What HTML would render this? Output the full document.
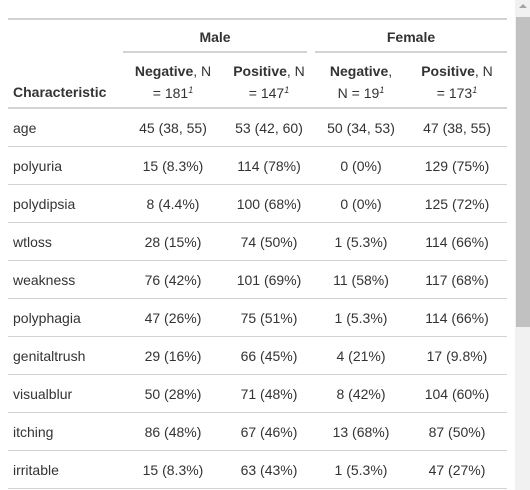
<!DOCTYPE html>
<html><head><meta charset="utf-8"><style>
body{margin:0;width:530px;height:490px;overflow:hidden;background:#fff;font-family:"Liberation Sans",sans-serif;color:#333;font-size:14px;position:relative}
.a{position:absolute;white-space:nowrap}
.c{text-align:center}
.l{position:absolute;background:#d3d3d3}
sup{font-style:italic;font-size:9px;line-height:0;vertical-align:5px}
</style></head><body>
<div class="l" style="left:8px;top:18px;width:499px;height:2px"></div>
<div class="a c" style="left:123px;width:184px;top:29px;font-weight:bold">Male</div>
<div class="a c" style="left:315px;width:192px;top:29px;font-weight:bold">Female</div>
<div class="l" style="left:123px;top:51px;width:184px;height:2px"></div>
<div class="l" style="left:315px;top:51px;width:192px;height:2px"></div>
<div class="a" style="left:13px;top:84px;font-weight:bold">Characteristic</div>
<div class="a c" style="left:123px;width:100px;top:60px;line-height:22px"><b>Negative</b>, N<br>= 181<sup>1</sup></div>
<div class="a c" style="left:223px;width:92px;top:60px;line-height:22px"><b>Positive</b>, N<br>= 147<sup>1</sup></div>
<div class="a c" style="left:315px;width:92px;top:60px;line-height:22px"><b>Negative</b>,<br>N = 19<sup>1</sup></div>
<div class="a c" style="left:407px;width:100px;top:60px;line-height:22px"><b>Positive</b>, N<br>= 173<sup>1</sup></div>
<div class="l" style="left:8px;top:107px;width:499px;height:2px"></div>
<div id="rows"></div>
<div class="a" style="left:515px;top:0;width:15px;height:490px;background:#f1f1f1"></div>
<div class="a" style="left:516px;top:17px;width:14px;height:310px;background:#c1c1c1"></div>
<div class="a" style="left:519px;top:4px;width:0;height:0;border-left:4px solid transparent;border-right:4px solid transparent;border-bottom:4px solid #a3a3a3"></div>
<script>
const rowsData=[
["age","45 (38, 55)","53 (42, 60)","50 (34, 53)","47 (38, 55)"],
["polyuria","15 (8.3%)","114 (78%)","0 (0%)","129 (75%)"],
["polydipsia","8 (4.4%)","100 (68%)","0 (0%)","125 (72%)"],
["wtloss","28 (15%)","74 (50%)","1 (5.3%)","114 (66%)"],
["weakness","76 (42%)","101 (69%)","11 (58%)","117 (68%)"],
["polyphagia","47 (26%)","75 (51%)","1 (5.3%)","114 (66%)"],
["genitaltrush","29 (16%)","66 (45%)","4 (21%)","17 (9.8%)"],
["visualblur","50 (28%)","71 (48%)","8 (42%)","104 (60%)"],
["itching","86 (48%)","67 (46%)","13 (68%)","87 (50%)"],
["irritable","15 (8.3%)","63 (43%)","1 (5.3%)","47 (27%)"]];
const cols=[[13,0],[123,100],[223,92],[315,92],[407,100]];
const host=document.getElementById('rows');
rowsData.forEach((r,i)=>{
 const y=109+i*38;
 r.forEach((t,j)=>{
  const d=document.createElement('div');
  d.className='a'+(j?' c':'');
  d.style.left=cols[j][0]+'px';
  if(j)d.style.width=cols[j][1]+'px';
  d.style.top=(y+11)+'px';
  d.textContent=t;
  
  
  host.appendChild(d);
 });
 const l=document.createElement('div');
 l.className='l';
 l.style.cssText='left:8px;width:499px;height:1px;top:'+(y+37)+'px';
 
 
 host.appendChild(l);
});
</script>
</body></html>
